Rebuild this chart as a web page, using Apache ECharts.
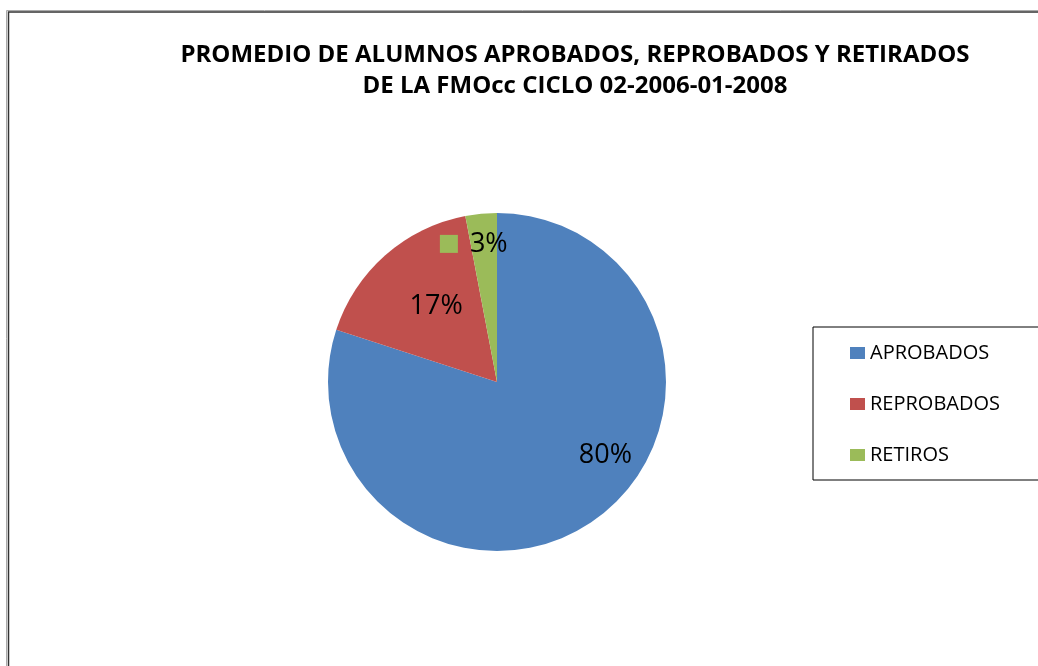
<!DOCTYPE html>
<html>
<head>
<meta charset="utf-8">
<script src="https://cdn.jsdelivr.net/npm/echarts@6/dist/echarts.min.js"></script>
<style>
html,body{margin:0;padding:0;background:#fff;}
#chart{width:1038px;height:666px;}
</style>
</head>
<body>
<div id="chart"></div>
<script>
const titleLines = ['PROMEDIO DE ALUMNOS APROBADOS, REPROBADOS Y RETIRADOS', 'DE LA FMOcc CICLO 02-2006-01-2008'];
const categories = ['APROBADOS', 'REPROBADOS', 'RETIROS'];
const values = [80, 17, 3];
const colors = ['#4F81BD', '#C0504D', '#9BBB59'];
const labelOffsets = [[57, 3], [-3, -10], [-15, -51]];

const chart = echarts.init(document.getElementById('chart'), null, {renderer: 'canvas'});
const FONT = '"Open Sans", "Noto Sans", sans-serif';

const data = categories.map((c, i) => ({
  name: c,
  value: values[i],
  itemStyle: {color: colors[i]},
  label: {offset: labelOffsets[i]}
}));

chart.setOption({
  backgroundColor: '#fff',
  animation: false,
  title: {
    text: titleLines.join('\n'),
    left: 575,
    top: 40,
    padding: 0,
    textAlign: 'center',
    textStyle: {fontFamily: FONT, fontWeight: 'bold', fontSize: 24, lineHeight: 31, color: '#000'}
  },
  legend: {
    orient: 'vertical',
    left: 813,
    top: 327,
    padding: [16, 45, 15, 37],
    borderColor: '#000',
    borderWidth: 1,
    icon: 'rect',
    itemWidth: 15,
    itemHeight: 12,
    itemGap: 31,
    data: categories,
    textStyle: {fontFamily: FONT, fontSize: 20, color: '#000'}
  },
  graphic: [
    {type: 'rect', silent: true, shape: {x: 6.5, y: 10.5, width: 1200, height: 1000}, style: {fill: 'none', stroke: '#aaa', lineWidth: 1}},
    {type: 'rect', silent: true, shape: {x: 8.5, y: 12, width: 1200, height: 1000}, style: {fill: 'none', stroke: '#333', lineWidth: 1.5}}
  ],
  series: [{
    type: 'pie',
    center: [497, 382],
    radius: 169,
    startAngle: 90,
    clockwise: true,
    avoidLabelOverlap: false,
    itemStyle: {borderWidth: 0},
    emphasis: {disabled: true},
    labelLine: {show: false},
    label: {
      show: true,
      position: 'inside',
      fontFamily: FONT,
      fontSize: 27,
      color: '#000',
      formatter: function (p) {
        const pct = Math.round(p.percent) + '%';
        return p.name === 'RETIROS' ? '{sq|}{gap|}{t|' + pct + '}' : pct;
      },
      rich: {
        sq: {width: 18, height: 18, backgroundColor: colors[2]},
        gap: {width: 12},
        t: {fontFamily: FONT, fontSize: 27, color: '#000'}
      }
    },
    data: data
  }]
});
</script>
</body>
</html>
